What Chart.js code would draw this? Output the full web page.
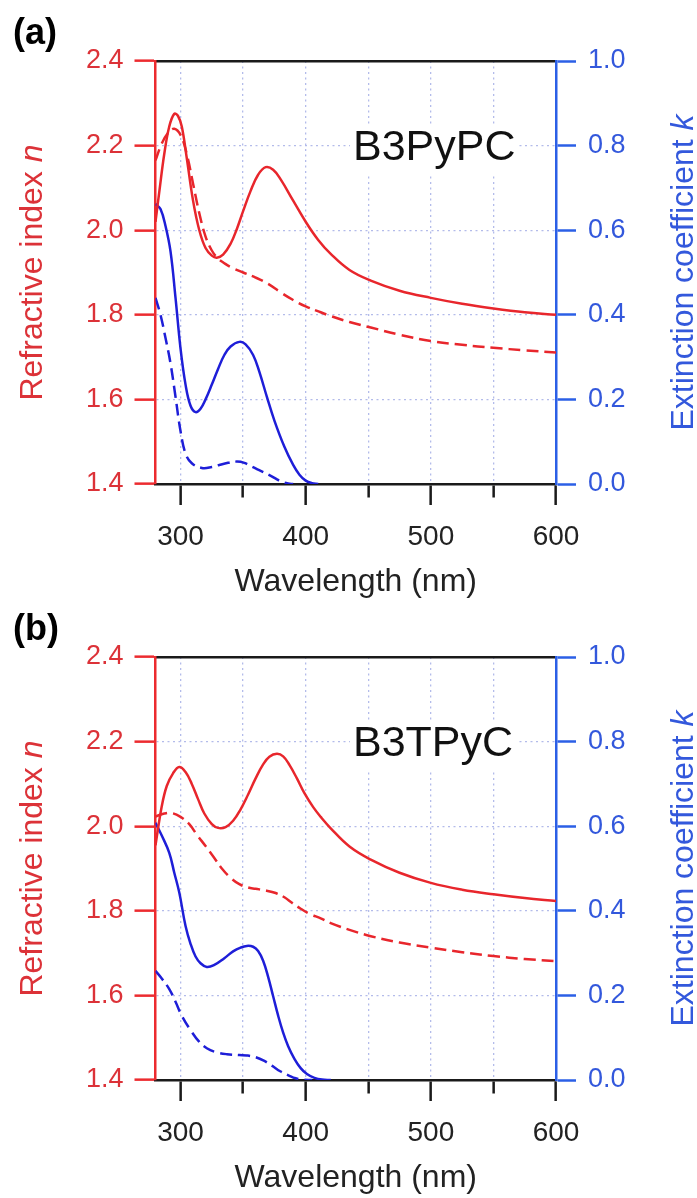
<!DOCTYPE html>
<html><head><meta charset="utf-8">
<script src="https://cdn.jsdelivr.net/npm/chart.js@4.4.0/dist/chart.umd.min.js"></script>
<style>
html,body{margin:0;padding:0;background:#fff;width:697px;height:1198px;overflow:hidden;}
.panel{position:absolute;left:0;width:697px;height:599px;}
canvas{display:block;}
</style></head>
<body>
<div class="panel" style="top:0px"><canvas id="ca" width="697" height="599"></canvas></div>
<div class="panel" style="top:596px"><canvas id="cb" width="697" height="599"></canvas></div>
<script>
// ---------- tick labels / axes ----------
const xTickValues = [300, 350, 400, 450, 500, 550, 600];
const nTickValues = [1.4, 1.6, 1.8, 2.0, 2.2, 2.4];
const kTickValues = [0.0, 0.2, 0.4, 0.6, 0.8, 1.0];
const panelLabels = ['(a)', '(b)'];
const sampleNames = ['B3PyPC', 'B3TPyC'];
const xTitle = 'Wavelength (nm)';
const nTitle = ['Refractive index ', 'n'];
const kTitle = ['Extinction coefficient ', 'k'];

// ---------- panel (a) B3PyPC ----------
const wlA_nSolid = [280,283,287,291,295,298,301,305,310,315,320,325,329,334,340,345,350,356,362,368,374,380,390,400,410,420,435,452,475,500,525,550,575,600];
const nA_solid   = [2.02,2.09,2.18,2.245,2.275,2.27,2.245,2.17,2.07,2.00,1.958,1.94,1.935,1.942,1.968,2.003,2.045,2.093,2.131,2.149,2.143,2.12,2.07,2.02,1.977,1.944,1.906,1.881,1.857,1.84,1.826,1.815,1.806,1.80];
const wlA_nDash  = [280,285,290,295,300,305,310,315,320,325,330,335,340,350,360,370,380,390,400,412,420,435,452,475,500,525,550,575,600];
const nA_dash    = [2.165,2.205,2.23,2.24,2.225,2.18,2.11,2.04,1.985,1.952,1.933,1.922,1.913,1.90,1.888,1.873,1.853,1.835,1.82,1.806,1.797,1.783,1.77,1.753,1.738,1.729,1.722,1.716,1.711];
const wlA_kSolid = [280,284,288,292,296,300,304,308,312,316,320,325,330,335,340,347,352,358,363,369,375,383,390,395,400,405,410];
const kA_solid   = [0.662,0.65,0.61,0.55,0.44,0.32,0.235,0.185,0.17,0.178,0.20,0.235,0.272,0.305,0.325,0.336,0.33,0.305,0.265,0.206,0.15,0.088,0.045,0.022,0.008,0.002,0.0];
const wlA_kDash  = [280,284,288,292,296,300,304,309,317,325,331,338,345,351,357,364,371,377,381,386,390];
const kA_dash    = [0.44,0.40,0.345,0.285,0.206,0.125,0.072,0.049,0.038,0.040,0.045,0.050,0.053,0.050,0.041,0.031,0.021,0.011,0.005,0.001,0.0];

// ---------- panel (b) B3TPyC ----------
const wlB_nSolid = [280,285,289,294,299,304,309,314,319,325,330,336,342,348,354,360,366,371,377,382,387,393,399,406,412,420,435,452,475,500,525,550,575,600];
const nB_solid   = [1.955,2.047,2.095,2.125,2.14,2.128,2.10,2.064,2.03,2.005,1.996,1.998,2.013,2.04,2.075,2.113,2.146,2.164,2.171,2.165,2.145,2.113,2.078,2.045,2.022,1.995,1.952,1.921,1.89,1.866,1.85,1.839,1.83,1.823];
const wlB_nDash  = [280,287,293,300,307,313,320,327,333,340,347,354,360,368,376,383,389,396,403,412,420,435,452,475,500,525,550,575,600];
const nB_dash    = [2.023,2.03,2.031,2.022,2.005,1.98,1.953,1.925,1.90,1.878,1.863,1.855,1.852,1.848,1.842,1.832,1.819,1.805,1.793,1.782,1.771,1.755,1.74,1.725,1.713,1.702,1.693,1.686,1.681];
const wlB_kSolid = [280,285,291,295,299,304,308,312,316,321,327,335,342,348,353,358,362,366,370,374,378,382,386,391,396,401,407,413,420];
const kB_solid   = [0.608,0.578,0.537,0.49,0.443,0.364,0.322,0.292,0.276,0.267,0.272,0.288,0.304,0.313,0.317,0.315,0.305,0.282,0.244,0.198,0.152,0.112,0.08,0.05,0.028,0.014,0.005,0.001,0.0];
const wlB_kDash  = [280,285,291,296,301,308,315,321,328,337,347,353,360,367,373,380,387,392,397,405];
const kB_dash    = [0.258,0.24,0.215,0.185,0.152,0.118,0.09,0.075,0.066,0.061,0.059,0.058,0.054,0.045,0.034,0.02,0.01,0.004,0.001,0.0];

const RED = '#e8262c', BLUE_LINE = '#1e1ed8';
const RED_AXIS = '#ec2b2f', BLUE_AXIS = '#2b5fe6';
const RED_TXT = '#dc3238', BLUE_TXT = '#3358dc';
const GRID = '#b3bbea';
const FONT = '"Liberation Sans", Arial, Helvetica, sans-serif';

function pts(xs, ys) { return xs.map((x, i) => ({x: x, y: ys[i]})); }

const decor = {
  id: 'decor',
  beforeDatasetsDraw(chart, args, opts) {
    const ctx = chart.ctx, ca = chart.chartArea;
    ctx.save();
    ctx.font = '43px ' + FONT;
    const w = ctx.measureText(opts.name).width;
    const tx = 353, ty = ca.top + 99;
    ctx.fillStyle = '#fff';
    ctx.fillRect(tx - 3, ty - 33, w + 6, 47);
    ctx.fillStyle = '#111';
    ctx.textBaseline = 'alphabetic';
    ctx.textAlign = 'left';
    ctx.fillText(opts.name, tx, ty);
    ctx.restore();
  },
  afterDraw(chart, args, opts) {
    const ctx = chart.ctx, ca = chart.chartArea;
    ctx.save();
    ctx.fillStyle = '#000';
    ctx.font = 'bold 36px ' + FONT;
    ctx.textBaseline = 'alphabetic';
    ctx.textAlign = 'left';
    ctx.fillText(opts.label, 13, 44);
    ctx.font = '32px ' + FONT;
    ctx.fillStyle = '#222';
    ctx.textAlign = 'center';
    ctx.fillText(xTitle, (ca.left + ca.right) / 2, 591);
    const drawRot = (parts, x, color) => {
      ctx.save();
      ctx.translate(x, (ca.top + ca.bottom) / 2);
      ctx.rotate(-Math.PI / 2);
      ctx.fillStyle = color;
      ctx.textAlign = 'left';
      ctx.font = '32px ' + FONT;
      const w1 = ctx.measureText(parts[0]).width;
      ctx.font = 'italic 32px ' + FONT;
      const w2 = ctx.measureText(parts[1]).width;
      const start = -(w1 + w2) / 2;
      ctx.font = '32px ' + FONT;
      ctx.fillText(parts[0], start, 0);
      ctx.font = 'italic 32px ' + FONT;
      ctx.fillText(parts[1], start + w1, 0);
      ctx.restore();
    };
    drawRot(nTitle, 42, RED_TXT);
    drawRot(kTitle, 693, BLUE_TXT);
    ctx.restore();
  }
};

function makeChart(id, label, name, nS, nD, kS, kD) {
  const lineDs = (data, axis, color, dash) => ({
    data: data, yAxisID: axis, xAxisID: 'x', borderColor: color, borderWidth: 2.5,
    borderDash: dash, pointRadius: 0, fill: false, tension: 0.4
  });
  return new Chart(document.getElementById(id), {
    type: 'line',
    data: {
      datasets: [
        lineDs(nS, 'y', RED, []),
        lineDs(nD, 'y', RED, [12, 6]),
        lineDs(kS, 'k', BLUE_LINE, []),
        lineDs(kD, 'k', BLUE_LINE, [12, 6])
      ]
    },
    options: {
      responsive: false,
      animation: false,
      layout: { padding: { top: 61, left: 0, right: 0, bottom: 0 } },
      plugins: { legend: { display: false }, tooltip: { enabled: false }, decor: { label: label, name: name } },
      scales: {
        x: {
          type: 'linear', position: 'bottom', min: 280, max: 600,
          afterBuildTicks: s => { s.ticks = xTickValues.map(v => ({value: v})); },
          afterFit: s => { s.height = 115; },
          ticks: {
            color: '#222', font: { family: FONT, size: 28 }, padding: 15, maxRotation: 0, autoSkip: false,
            callback: v => (v % 100 === 0 ? String(v) : '')
          },
          grid: {
            color: ctx => (ctx.tick && ctx.tick.value === 600 ? 'rgba(0,0,0,0)' : GRID),
            lineWidth: 1.3, tickLength: 21, tickColor: '#1a1a1a', tickWidth: 2.5,
            tickBorderDash: ctx => (ctx.tick && ctx.tick.value % 100 !== 0 ? [12, 100] : [])
          },
          border: { display: true, color: '#1a1a1a', width: 2.5, dash: [2, 3.5] }
        },
        xTop: {
          type: 'linear', position: 'top', min: 280, max: 600,
          afterFit: s => { s.height = 0; },
          ticks: { display: false },
          grid: { display: true, drawOnChartArea: false, drawTicks: false },
          border: { display: true, color: '#1a1a1a', width: 2.5 }
        },
        y: {
          type: 'linear', position: 'left', min: 1.4, max: 2.4,
          afterBuildTicks: s => { s.ticks = nTickValues.map(v => ({value: v})); },
          afterFit: s => { s.width = 155.5; },
          ticks: { color: RED_TXT, font: { family: FONT, size: 27 }, padding: 11, callback: v => Number(v).toFixed(1) },
          grid: {
            color: ctx => (ctx.tick && (Math.abs(ctx.tick.value - 1.4) < 1e-6 || Math.abs(ctx.tick.value - 2.4) < 1e-6) ? 'rgba(0,0,0,0)' : GRID),
            lineWidth: 1.3, tickLength: 21, tickColor: RED_AXIS, tickWidth: 2.5
          },
          border: { display: true, color: RED_AXIS, width: 2.5, dash: [2, 3.5] }
        },
        k: {
          type: 'linear', position: 'right', min: 0, max: 1,
          afterBuildTicks: s => { s.ticks = kTickValues.map(v => ({value: v})); },
          afterFit: s => { s.width = 141; },
          ticks: { color: BLUE_TXT, font: { family: FONT, size: 27 }, padding: 12, callback: v => Number(v).toFixed(1) },
          grid: { drawOnChartArea: false, tickLength: 20, tickColor: BLUE_AXIS, tickWidth: 2.5 },
          border: { display: true, color: BLUE_AXIS, width: 2.5 }
        }
      }
    },
    plugins: [decor]
  });
}

makeChart('ca', panelLabels[0], sampleNames[0], pts(wlA_nSolid, nA_solid), pts(wlA_nDash, nA_dash), pts(wlA_kSolid, kA_solid), pts(wlA_kDash, kA_dash));
makeChart('cb', panelLabels[1], sampleNames[1], pts(wlB_nSolid, nB_solid), pts(wlB_nDash, nB_dash), pts(wlB_kSolid, kB_solid), pts(wlB_kDash, kB_dash));
</script>
</body></html>
